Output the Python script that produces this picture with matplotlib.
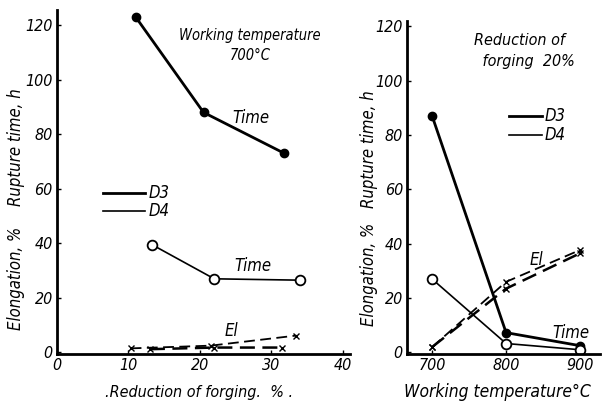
import matplotlib.pyplot as plt

# Panel izquierdo: reducción de forja (%), temperatura 700 °C
red_d3_tiempo = [11, 20.5, 31.8]
tiempo_d3_red = [123, 88, 73]
red_d4_tiempo = [13.3, 22, 34]
tiempo_d4_red = [39.5, 27, 26.5]
red_el_a = [10.3, 21.5, 33.5]
el_a_red = [1.5, 2.5, 6.2]
red_el_b = [13, 22, 31.5]
el_b_red = [1.2, 1.8, 1.8]

# Panel derecho: temperatura de trabajo (°C), reducción 20 %
temp = [700, 800, 900]
tiempo_d3_temp = [87, 7.3, 2.5]
tiempo_d4_temp = [27, 3.3, 1]
el_a_temp = [2, 26, 37.7]
el_b_temp = [2, 23.5, 36.5]

y_ticks = [0, 20, 40, 60, 80, 100, 120]
x_ticks_izq = [0, 10, 20, 30, 40]

fuente = dict(family='DejaVu Sans', style='italic', stretch='condensed')

fig = plt.figure(figsize=(6.03, 4.03), dpi=100)
ax1 = fig.add_axes([0.0945, 0.122, 0.486, 0.853])
ax2 = fig.add_axes([0.675, 0.122, 0.32, 0.826])

for ax in (ax1, ax2):
    ax.spines['top'].set_visible(False)
    ax.spines['right'].set_visible(False)
    ax.spines['left'].set_linewidth(2)
    ax.spines['bottom'].set_linewidth(2)
    ax.tick_params(direction='in', length=3, width=1, pad=3)
    ax.set_yticks(y_ticks)
    for lbl in ax.get_yticklabels():
        lbl.set_fontsize(11.5)
        lbl.set(**fuente)

# ---- izquierda
ax1.plot(red_d3_tiempo, tiempo_d3_red, '-o', color='black', lw=2, ms=6)
ax1.plot(red_d4_tiempo, tiempo_d4_red, '-o', color='black', lw=1.2, ms=7,
         mfc='white', mew=1.3)
ax1.plot(red_el_a, el_a_red, '--x', color='black', lw=1.3, ms=4, dashes=(6, 3))
ax1.plot(red_el_b, el_b_red, '--x', color='black', lw=1.8, ms=4, dashes=(6, 3))
ax1.set_xlim(0, 41)
ax1.set_ylim(-0.5, 125.5)
ax1.set_xticks(x_ticks_izq)
for lbl in ax1.get_xticklabels():
    lbl.set_fontsize(11.5)
    lbl.set(**fuente)

ax1.plot([6.5, 12.3], [58.5, 58.5], color='black', lw=2)
ax1.plot([6.5, 12.3], [52, 52], color='black', lw=1.2)
ax1.text(12.8, 58.5, 'D3', fontsize=12, va='center', **fuente)
ax1.text(12.8, 52, 'D4', fontsize=12, va='center', **fuente)
ax1.text(24.5, 86, 'Time', fontsize=12, va='center', **fuente)
ax1.text(24.8, 28.5, 'Time', fontsize=12, va='bottom', **fuente)
ax1.text(23.5, 4.5, 'El', fontsize=12, va='bottom', **fuente)
ax1.text(27, 112.5, 'Working temperature\n700°C', fontsize=10.5, ha='center',
         va='center', linespacing=1.45, **fuente)
fig.text(0.33, 0.027, '.Reduction of forging.  % .', fontsize=11.5,
         ha='center', va='center', **fuente)
fig.text(0.027, 0.635, 'Rupture time, h', fontsize=12, rotation=90,
         ha='center', va='center', **fuente)
fig.text(0.027, 0.31, 'Elongation, %', fontsize=12, rotation=90,
         ha='center', va='center', **fuente)

# ---- derecha
ax2.plot(temp, tiempo_d3_temp, '-o', color='black', lw=2, ms=6)
ax2.plot(temp, tiempo_d4_temp, '-o', color='black', lw=1.2, ms=7,
         mfc='white', mew=1.3)
ax2.plot(temp, el_a_temp, '--x', color='black', lw=1.3, ms=4, dashes=(6, 3))
ax2.plot(temp, el_b_temp, '--x', color='black', lw=1.8, ms=4, dashes=(6, 3))
ax2.set_xlim(666, 927)
ax2.set_ylim(-0.5, 122)
ax2.set_xticks(temp)
for lbl in ax2.get_xticklabels():
    lbl.set_fontsize(11.5)
    lbl.set(**fuente)

ax2.plot([804, 848], [87, 87], color='black', lw=2)
ax2.plot([804, 848], [80, 80], color='black', lw=1.2)
ax2.text(852, 87, 'D3', fontsize=12, va='center', **fuente)
ax2.text(852, 80, 'D4', fontsize=12, va='center', **fuente)
ax2.text(862, 7, 'Time', fontsize=12, va='center', **fuente)
ax2.text(832, 34, 'El', fontsize=12, va='center', **fuente)
ax2.text(818, 111, 'Reduction of\n    forging  20%', fontsize=11.5,
         ha='center', va='center', linespacing=1.45, **fuente)
fig.text(0.825, 0.027, 'Working temperature°C', fontsize=12.5,
         ha='center', va='center', **fuente)
fig.text(0.612, 0.63, 'Rupture time, h', fontsize=12, rotation=90,
         ha='center', va='center', **fuente)
fig.text(0.612, 0.32, 'Elongation, %', fontsize=12, rotation=90,
         ha='center', va='center', **fuente)

fig.savefig('out.png', dpi=100)
